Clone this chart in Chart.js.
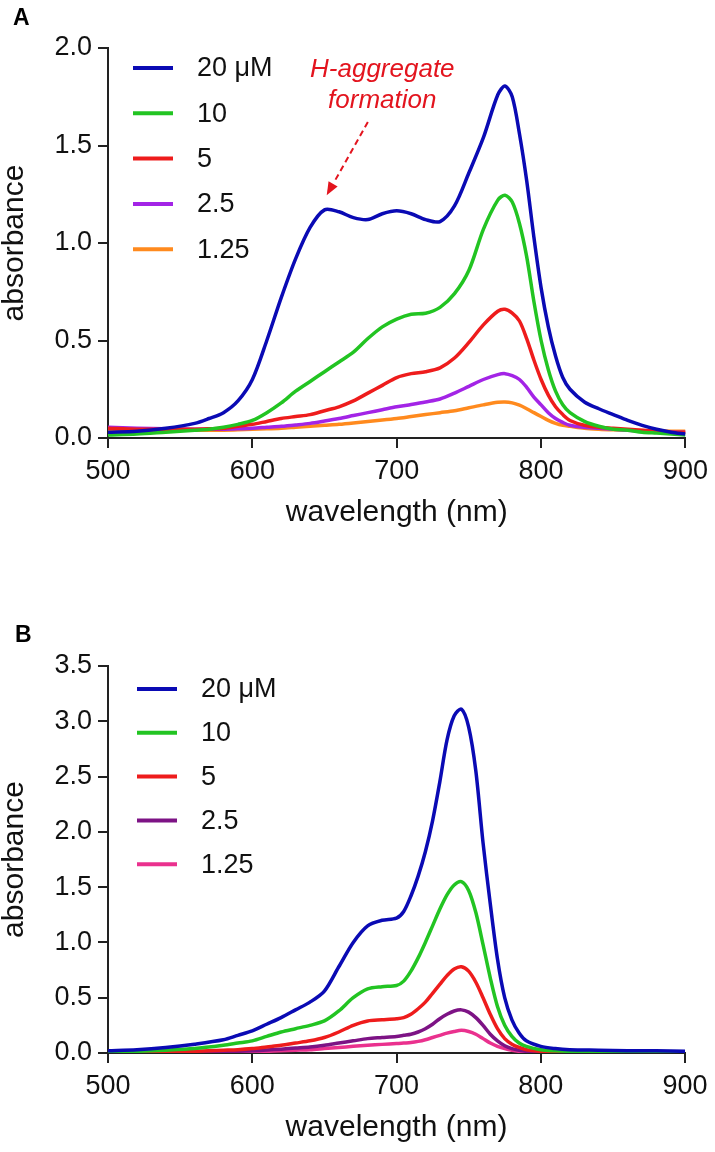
<!DOCTYPE html>
<html>
<head>
<meta charset="utf-8">
<script src="https://cdn.jsdelivr.net/npm/chart.js@4"></script>
<style>
  body { margin: 0; background: #fff; width: 715px; height: 1152px; position: relative; overflow: hidden; }
  canvas { position: absolute; left: 0; }
  #chartA { top: 0; }
  #chartB { top: 580px; }
</style>
</head>
<body>
<canvas id="chartA" width="715" height="560"></canvas>
<canvas id="chartB" width="715" height="572"></canvas>
<script>
const FONT = 'Arial, "Liberation Sans", Helvetica, sans-serif';

// Panel A - absorbance spectra
const wavelengthsA = [500, 520, 540, 560, 570, 580, 590, 600, 610, 620, 630, 640, 650, 660, 670, 680, 690, 700, 710, 720, 730, 740, 750, 760, 770, 775, 780, 785, 790, 795, 800, 805, 810, 815, 820, 830, 840, 850, 860, 870, 880, 890, 900];
const absA20 = [0.03, 0.035, 0.05, 0.075, 0.10, 0.13, 0.19, 0.30, 0.50, 0.72, 0.92, 1.08, 1.17, 1.16, 1.13, 1.12, 1.15, 1.165, 1.15, 1.12, 1.11, 1.19, 1.36, 1.54, 1.76, 1.805, 1.75, 1.56, 1.32, 1.03, 0.77, 0.57, 0.42, 0.31, 0.25, 0.185, 0.15, 0.12, 0.09, 0.065, 0.045, 0.03, 0.02];
const absA10 = [0.015, 0.02, 0.03, 0.04, 0.045, 0.055, 0.07, 0.09, 0.13, 0.18, 0.24, 0.29, 0.34, 0.39, 0.44, 0.51, 0.57, 0.61, 0.635, 0.64, 0.67, 0.74, 0.86, 1.07, 1.22, 1.245, 1.21, 1.10, 0.93, 0.70, 0.50, 0.35, 0.24, 0.17, 0.13, 0.085, 0.06, 0.045, 0.04, 0.03, 0.025, 0.02, 0.015];
const absA5 = [0.05, 0.045, 0.045, 0.045, 0.047, 0.05, 0.06, 0.07, 0.085, 0.10, 0.11, 0.12, 0.14, 0.16, 0.19, 0.23, 0.27, 0.31, 0.33, 0.34, 0.36, 0.41, 0.49, 0.58, 0.65, 0.66, 0.64, 0.60, 0.51, 0.40, 0.30, 0.22, 0.16, 0.12, 0.09, 0.065, 0.055, 0.05, 0.045, 0.04, 0.035, 0.03, 0.03];
const absA2_5 = [0.055, 0.05, 0.047, 0.045, 0.045, 0.045, 0.047, 0.05, 0.055, 0.06, 0.067, 0.075, 0.087, 0.10, 0.115, 0.13, 0.145, 0.16, 0.172, 0.185, 0.20, 0.23, 0.265, 0.30, 0.325, 0.33, 0.32, 0.30, 0.26, 0.21, 0.17, 0.13, 0.10, 0.08, 0.065, 0.055, 0.05, 0.045, 0.04, 0.035, 0.03, 0.03, 0.03];
const absA1_25 = [0.04, 0.04, 0.04, 0.04, 0.04, 0.04, 0.042, 0.045, 0.047, 0.05, 0.055, 0.06, 0.065, 0.07, 0.077, 0.085, 0.092, 0.10, 0.11, 0.12, 0.13, 0.14, 0.155, 0.17, 0.183, 0.185, 0.18, 0.168, 0.15, 0.13, 0.11, 0.09, 0.075, 0.065, 0.06, 0.05, 0.045, 0.042, 0.04, 0.038, 0.036, 0.035, 0.035];

// Panel B - absorbance spectra
const wavelengthsB = [500, 520, 540, 560, 580, 590, 600, 610, 620, 630, 640, 650, 660, 670, 680, 690, 700, 705, 710, 715, 720, 725, 730, 735, 740, 745, 750, 755, 760, 765, 770, 775, 780, 785, 790, 800, 810, 820, 840, 860, 880, 900];
const absB20 = [0.02, 0.03, 0.05, 0.08, 0.12, 0.16, 0.20, 0.26, 0.32, 0.39, 0.46, 0.56, 0.78, 1.00, 1.15, 1.20, 1.22, 1.28, 1.42, 1.60, 1.82, 2.10, 2.45, 2.83, 3.05, 3.11, 2.95, 2.55, 1.90, 1.35, 0.85, 0.50, 0.30, 0.18, 0.11, 0.06, 0.04, 0.03, 0.025, 0.02, 0.02, 0.015];
const absB10 = [0.01, 0.015, 0.025, 0.04, 0.07, 0.09, 0.11, 0.15, 0.19, 0.22, 0.25, 0.29, 0.38, 0.50, 0.58, 0.60, 0.61, 0.65, 0.74, 0.86, 1.00, 1.15, 1.30, 1.43, 1.52, 1.55, 1.47, 1.27, 0.98, 0.68, 0.42, 0.25, 0.15, 0.09, 0.06, 0.03, 0.02, 0.015, 0.01, 0.01, 0.01, 0.01];
const absB5 = [0.005, 0.007, 0.01, 0.015, 0.025, 0.03, 0.04, 0.055, 0.07, 0.09, 0.11, 0.14, 0.19, 0.25, 0.29, 0.30, 0.31, 0.32, 0.35, 0.40, 0.46, 0.54, 0.62, 0.70, 0.76, 0.78, 0.74, 0.64, 0.50, 0.35, 0.22, 0.13, 0.08, 0.05, 0.03, 0.015, 0.01, 0.01, 0.005, 0.005, 0.005, 0.005];
const absB2_5 = [0.002, 0.003, 0.005, 0.007, 0.01, 0.015, 0.02, 0.027, 0.035, 0.045, 0.055, 0.07, 0.09, 0.11, 0.13, 0.14, 0.15, 0.16, 0.17, 0.19, 0.22, 0.26, 0.31, 0.35, 0.38, 0.39, 0.37, 0.32, 0.25, 0.17, 0.11, 0.065, 0.04, 0.025, 0.015, 0.005, 0.003, 0.002, 0.002, 0.002, 0.002, 0.002];
const absB1_25 = [0, 0.001, 0.002, 0.003, 0.005, 0.007, 0.01, 0.015, 0.02, 0.025, 0.03, 0.04, 0.05, 0.06, 0.07, 0.078, 0.085, 0.09, 0.095, 0.105, 0.12, 0.14, 0.16, 0.18, 0.195, 0.205, 0.195, 0.17, 0.13, 0.09, 0.06, 0.04, 0.025, 0.015, 0.01, 0.005, 0.002, 0.001, 0, 0, 0, 0];

const legendLabels = ['20 \u03bcM', '10', '5', '2.5', '1.25'];
const colorsA = ['#0a0ab4', '#22c422', '#ee1c1c', '#a324e6', '#ff8a1e'];
const colorsB = ['#0a0ab4', '#22c422', '#ee1c1c', '#7d1385', '#ea318e'];
const yTicksA = { max: 2.0, step: 0.5 };
const yTicksB = { max: 3.5, step: 0.5 };
const xTicks = { min: 500, max: 900, step: 100 };

function toPoints(xs, ys) {
    return xs.map((x, i) => ({ x, y: ys[i] }));
}

function makeDatasets(xs, series, colors) {
    return series.map((ys, i) => ({
        label: legendLabels[i],
        data: toPoints(xs, ys),
        borderColor: colors[i],
        borderWidth: 3.5,
        pointRadius: 0,
        tension: 0.3,
        fill: false
    }));
}

// Legend, panel letter and the arrow note, drawn on top of the chart
const panelDecor = {
    id: 'panelDecor',
    afterDraw(chart, args, opts) {
        const { ctx, chartArea } = chart;
        ctx.save();

        ctx.fillStyle = '#000';
        ctx.font = 'bold 23px ' + FONT;
        ctx.textAlign = 'left';
        ctx.textBaseline = 'alphabetic';
        ctx.fillText(opts.letter, opts.letterX, opts.letterY);

        chart.data.datasets.forEach((ds, i) => {
            const y = chartArea.top + opts.legendTop + i * opts.legendGap;
            const x0 = chartArea.left + opts.legendLeft;
            ctx.strokeStyle = ds.borderColor;
            ctx.lineWidth = 4;
            ctx.beginPath();
            ctx.moveTo(x0, y);
            ctx.lineTo(x0 + 40, y);
            ctx.stroke();
            ctx.fillStyle = '#111';
            ctx.font = '27px ' + FONT;
            ctx.textBaseline = 'middle';
            ctx.fillText(ds.label, x0 + 64, y + 1);
        });

        if (opts.note) {
            const xs = chart.scales.x, ys = chart.scales.y;
            const n = opts.note;
            ctx.fillStyle = '#e3141e';
            ctx.strokeStyle = '#e3141e';
            ctx.font = 'italic 26px ' + FONT;
            ctx.textAlign = 'center';
            ctx.textBaseline = 'alphabetic';
            n.lines.forEach((t, i) => {
                ctx.fillText(t, xs.getPixelForValue(n.x), ys.getPixelForValue(n.y[i]));
            });
            const x1 = xs.getPixelForValue(n.from[0]), y1 = ys.getPixelForValue(n.from[1]);
            const x2 = xs.getPixelForValue(n.to[0]), y2 = ys.getPixelForValue(n.to[1]);
            const ang = Math.atan2(y2 - y1, x2 - x1);
            const head = 14;
            ctx.lineWidth = 2;
            ctx.setLineDash([6, 4]);
            ctx.beginPath();
            ctx.moveTo(x1, y1);
            ctx.lineTo(x2 - head * Math.cos(ang), y2 - head * Math.sin(ang));
            ctx.stroke();
            ctx.setLineDash([]);
            ctx.beginPath();
            ctx.moveTo(x2, y2);
            ctx.lineTo(x2 - head * Math.cos(ang - 0.38), y2 - head * Math.sin(ang - 0.38));
            ctx.lineTo(x2 - head * Math.cos(ang + 0.38), y2 - head * Math.sin(ang + 0.38));
            ctx.closePath();
            ctx.fill();
        }
        ctx.restore();
    }
};

function makeChart(id, datasets, yCfg, layout, decor) {
    const tickFont = { family: FONT, size: 27 };
    return new Chart(document.getElementById(id), {
        type: 'line',
        data: { datasets },
        options: {
            responsive: false,
            animation: false,
            devicePixelRatio: 1,
            layout: { padding: { top: layout.top, right: layout.right, left: 0, bottom: 0 } },
            plugins: { legend: { display: false }, tooltip: { enabled: false }, panelDecor: decor },
            scales: {
                x: {
                    type: 'linear',
                    min: xTicks.min,
                    max: xTicks.max,
                    afterFit(s) { s.height = layout.xHeight; },
                    ticks: { stepSize: xTicks.step, font: tickFont, color: '#111', padding: 7, maxRotation: 0, autoSkip: false },
                    grid: { drawOnChartArea: false, drawTicks: true, tickLength: 10, color: '#222', lineWidth: 2 },
                    border: { color: '#222', width: 2 },
                    title: { display: true, text: 'wavelength (nm)', color: '#111', font: { family: FONT, size: 30, lineHeight: 1 }, padding: { top: 0, bottom: layout.xTitlePad } }
                },
                y: {
                    min: 0,
                    max: yCfg.max,
                    afterFit(s) { s.width = 108; },
                    ticks: { stepSize: yCfg.step, font: tickFont, color: '#111', padding: 6, callback: v => v.toFixed(1) },
                    grid: { drawOnChartArea: false, drawTicks: true, tickLength: 10, color: '#222', lineWidth: 2 },
                    border: { color: '#222', width: 2 },
                    title: { display: true, text: 'absorbance', color: '#111', font: { family: FONT, size: 30, lineHeight: 1 }, padding: { top: 0, bottom: 0 } }
                }
            }
        },
        plugins: [panelDecor]
    });
}

makeChart('chartA',
    makeDatasets(wavelengthsA, [absA20, absA10, absA5, absA2_5, absA1_25], colorsA),
    yTicksA,
    { top: 48, right: 29, xHeight: 122, xTitlePad: 32 },
    {
        letter: 'A', letterX: 13, letterY: 25,
        legendLeft: 25, legendTop: 20, legendGap: 45.3,
        note: {
            lines: ['H-aggregate', 'formation'], x: 690, y: [1.85, 1.69],
            from: [680, 1.62], to: [651.5, 1.245]
        }
    });

makeChart('chartB',
    makeDatasets(wavelengthsB, [absB20, absB10, absB5, absB2_5, absB1_25], colorsB),
    yTicksB,
    { top: 86, right: 30, xHeight: 99, xTitlePad: 9 },
    {
        letter: 'B', letterX: 15, letterY: 62,
        legendLeft: 29, legendTop: 23, legendGap: 43.8
    });
</script>
</body>
</html>
